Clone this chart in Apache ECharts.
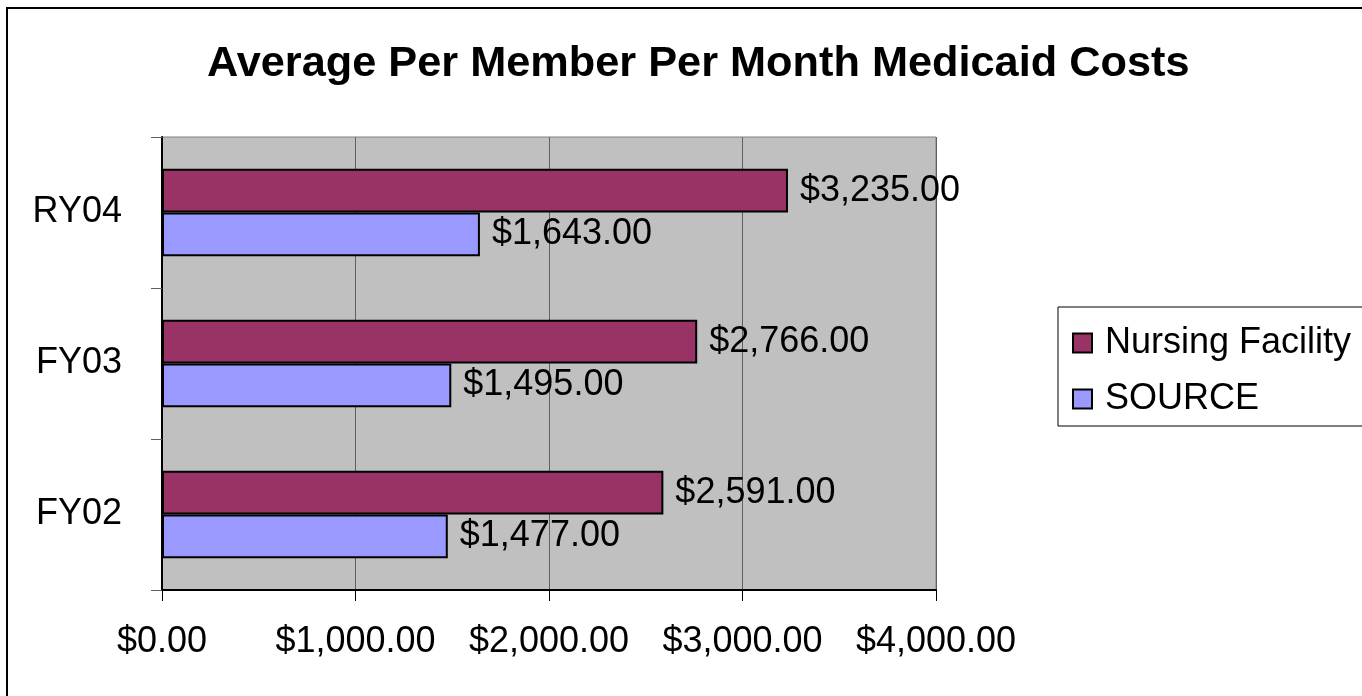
<!DOCTYPE html>
<html>
<head>
<meta charset="utf-8">
<title>Average Per Member Per Month Medicaid Costs</title>
<script src="https://cdn.jsdelivr.net/npm/echarts@6/dist/echarts.min.js"></script>
<style>
  html, body { margin: 0; padding: 0; background: #fff; }
  #chart { width: 1362px; height: 696px; }
</style>
</head>
<body>
<div id="chart"></div>
<script>
// chart data
const years = ['FY02', 'FY03', 'RY04'];
const nursingFacility = [2591, 2766, 3235];
const source = [1477, 1495, 1643];
const xTicks = [0, 1000, 2000, 3000, 4000];

const FONT = 'Arial, "Liberation Sans", sans-serif';

// $1,234.00 style
function money(v) {
    return '$' + Number(v).toLocaleString('en-US', { minimumFractionDigits: 2, maximumFractionDigits: 2 });
}

const chart = echarts.init(document.getElementById('chart'), null, { renderer: 'canvas' });

const barLabel = {
    show: true,
    position: 'right',
    distance: 12,
    color: '#000',
    fontFamily: FONT,
    fontSize: 36,
    formatter: (p) => money(p.value)
};

const option = {
    backgroundColor: '#fff',
    animation: false,
    title: {
        text: 'Average Per Member Per Month Medicaid Costs',
        left: 207,
        top: 43,
        padding: 0,
        textStyle: { fontFamily: FONT, fontSize: 43.3, fontWeight: 'bold', color: '#000' }
    },
    graphic: [
        {
            // outer frame, runs off the right and bottom of the picture
            type: 'rect',
            silent: true,
            shape: { x: 7, y: 8, width: 2000, height: 1000 },
            style: { fill: null, stroke: '#000', lineWidth: 2 }
        }
    ],
    legend: {
        orient: 'vertical',
        left: 1058,
        top: 307,
        data: ['Nursing Facility', 'SOURCE'],
        backgroundColor: '#fff',
        borderColor: '#000',
        borderWidth: 1,
        padding: [18, 40, 9, 14],
        itemWidth: 19,
        itemHeight: 19,
        itemGap: 20,
        icon: 'rect',
        textStyle: { fontFamily: FONT, fontSize: 36, color: '#000', padding: [0, 0, 0, 8] },
        itemStyle: { borderColor: '#000', borderWidth: 2 }
    },
    grid: {
        left: 162,
        right: 426,
        top: 137,
        bottom: 106,
        show: true,
        backgroundColor: '#c0c0c0',
        borderColor: '#808080',
        borderWidth: 1
    },
    xAxis: {
        type: 'value',
        min: xTicks[0],
        max: xTicks[xTicks.length - 1],
        interval: 1000,
        axisLine: { show: true, lineStyle: { color: '#000', width: 2 } },
        axisTick: { show: true, length: 11, lineStyle: { color: '#000' } },
        axisLabel: {
            margin: 34,
            color: '#000',
            fontFamily: FONT,
            fontSize: 36,
            formatter: (v) => money(v)
        },
        splitLine: { show: true, lineStyle: { color: '#606060', width: 1 } }
    },
    yAxis: {
        type: 'category',
        data: years,
        axisLine: { show: true, lineStyle: { color: '#000', width: 2 } },
        axisTick: { show: true, length: 11, lineStyle: { color: '#606060' } },
        axisLabel: {
            margin: 40,
            color: '#000',
            fontFamily: FONT,
            fontSize: 36
        },
        splitLine: { show: false }
    },
    series: [
        {
            name: 'Nursing Facility',
            type: 'bar',
            data: nursingFacility,
            barGap: '0%',
            barCategoryGap: '42%',
            itemStyle: { color: '#993366', borderColor: '#000', borderWidth: 2 },
            label: barLabel
        },
        {
            name: 'SOURCE',
            type: 'bar',
            data: source,
            barGap: '0%',
            barCategoryGap: '42%',
            itemStyle: { color: '#9999ff', borderColor: '#000', borderWidth: 2 },
            label: barLabel
        }
    ]
};

chart.setOption(option);
</script>
</body>
</html>
